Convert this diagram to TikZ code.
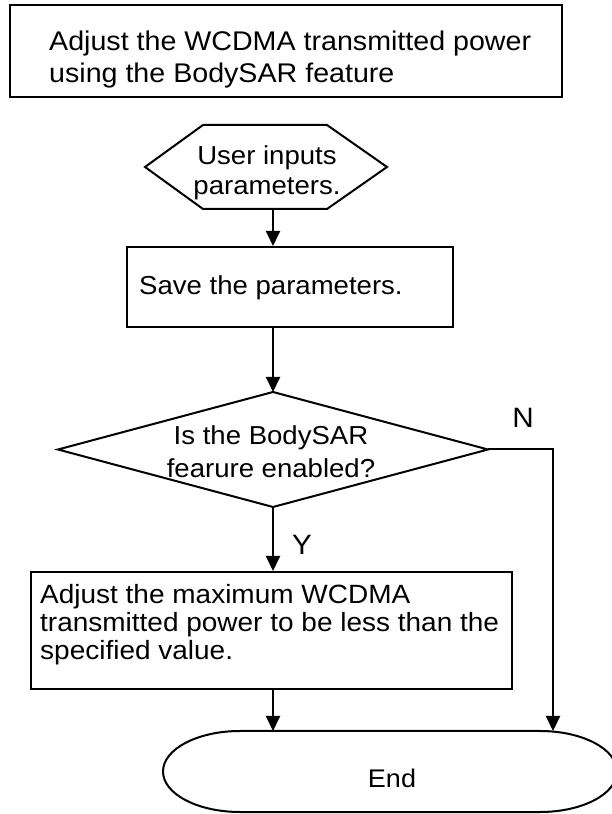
\documentclass[tikz,border=0pt]{standalone}
\usepackage{fontspec}
\setmainfont[FakeStretch=1.06]{Liberation Sans}
\usetikzlibrary{arrows.meta}
\begin{document}
\begin{tikzpicture}[x=1bp,y=1bp,
  shapeline/.style={draw=black, line width=2bp, line join=miter},
  boxnode/.style={shapeline, rectangle, inner sep=0pt},
  anchornode/.style={inner sep=0pt, outer sep=0pt},
  conn/.style={line width=2bp, -{Triangle[length=15bp,width=14bp]}},
  txt/.style={inner sep=0pt, font=\fontsize{26bp}{30bp}\selectfont},
  lbl/.style={inner sep=0pt, font=\fontsize{28bp}{30bp}\selectfont},
]
\useasboundingbox (0,0) rectangle (612,814);
\clip (0,0) rectangle (612,814);
\fill[white] (0,0) rectangle (612,814);

\coordinate (spine) at (273,0);
\coordinate (ncol) at (553,0);

% title box
\node[boxnode, minimum width=551.5bp, minimum height=92bp] (title) at (286.25,763) {};
\node[txt, anchor=north west, align=left, font=\fontsize{27bp}{32bp}\selectfont] (titletext) at (49,783.3)
  {Adjust the WCDMA transmitted power\\using the BodySAR feature};

% hexagon
\node[anchornode, minimum width=242bp, minimum height=84bp] (hex) at (266,647) {};
\draw[shapeline] (hex.west) -- ([xshift=58bp]hex.north west) -- ([xshift=-60bp]hex.north east)
  -- (hex.east) -- ([xshift=-60bp]hex.south east) -- ([xshift=58bp]hex.south west) -- cycle;
\node[txt, anchor=north, align=center] (hextext) at (267,668.6) {User inputs\\parameters.};

% save box
\node[boxnode, minimum width=326bp, minimum height=80bp] (save) at (290,527) {};
\node[txt, anchor=base west] (savetext) at (139,519) {Save the parameters.};

% decision
\node[anchornode, minimum width=430bp, minimum height=115bp] (dec) at (273,364.5) {};
\draw[shapeline] (dec.north) -- (dec.east) -- (dec.south) -- (dec.west) -- cycle;
\node[txt, anchor=north, align=center, font=\fontsize{26bp}{33bp}\selectfont] (dectext) at (271,388.6)
  {Is the BodySAR\\fearure enabled?};

% adjust box
\node[boxnode, minimum width=481bp, minimum height=117bp] (adj) at (271.5,183.5) {};
\node[txt, anchor=north west, align=left, font=\fontsize{26.4bp}{28bp}\selectfont] (adjtext) at (40,229.9)
  {Adjust the maximum WCDMA\\transmitted power to be less than the\\specified value.};

% end terminator
\node[anchornode, minimum width=454bp, minimum height=81bp] (endn) at (390,42.5) {};
\draw[shapeline] ([xshift=77bp]endn.north west) -- ([xshift=-77bp]endn.north east)
  arc[start angle=90, end angle=-90, x radius=77bp, y radius=40.5bp]
  -- ([xshift=77bp]endn.south west)
  arc[start angle=270, end angle=90, x radius=77bp, y radius=40.5bp] -- cycle;
\node[txt, anchor=base, font=\fontsize{25.5bp}{30bp}\selectfont] (endtext) at (392,26) {End};

% connectors
\draw[conn] (hex.south -| spine) -- (save.north -| spine);
\draw[conn] (save.south -| spine) -- (dec.north);
\draw[conn] (dec.south) -- (adj.north -| spine);
\draw[conn] (adj.south -| spine) -- (endn.north -| spine);
\draw[conn] (dec.east) -- (dec.east -| ncol) -- (endn.north -| ncol);

% labels
\node[lbl, anchor=base] (nlab) at (523,386) {N};
\node[lbl, anchor=base west] (ylab) at (292,259) {Y};
\end{tikzpicture}
\end{document}
